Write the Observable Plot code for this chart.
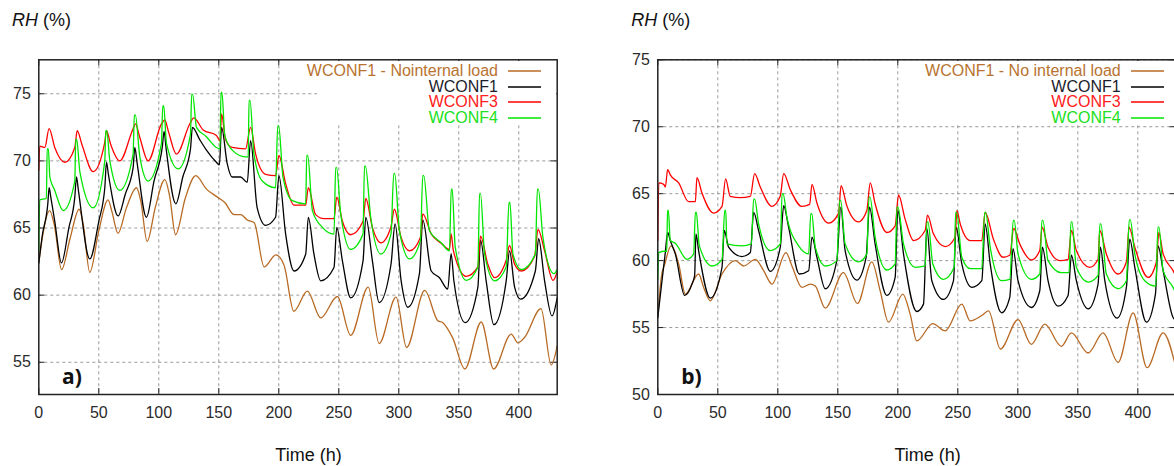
<!DOCTYPE html>
<html><head><meta charset="utf-8">
<script src="https://cdn.jsdelivr.net/npm/d3@7"></script>
<script src="https://cdn.jsdelivr.net/npm/@observablehq/plot@0.6"></script>
<style>
html,body{margin:0;padding:0;background:#fff;width:1174px;height:466px;overflow:hidden;font-family:"Liberation Sans",Arial,sans-serif;}
.panel{position:absolute;top:0;width:600px;height:466px;}
.panel svg{position:absolute;left:0;top:0;}
.ylab{position:absolute;left:12px;top:10px;font-size:18px;line-height:20px;color:#111;white-space:nowrap;}
.xlab{position:absolute;left:0;width:617px;text-align:center;top:445px;font-size:18px;line-height:20px;color:#111;}
.tag{position:absolute;left:62px;top:364px;font-weight:bold;font-size:21px;line-height:24px;font-family:"Open Sans","Liberation Sans",sans-serif;color:#111;}
.legend{position:absolute;background:#fff;top:61px;height:64px;}
.legend .row{position:absolute;left:0;height:16px;line-height:16px;font-size:16px;white-space:nowrap;}
</style>
</head><body>
<script>
// ---------- shared axis values ----------
const xTicks = [0, 50, 100, 150, 200, 250, 300, 350, 400];
const yTicksA = [55, 60, 65, 70, 75];
const yTicksB = [50, 55, 60, 65, 70, 75];
const seriesColors = ["#b86a24", "#000000", "#ff0000", "#00e600"];
const legendTextColors = ["#b87330", "#1c1c2c", "#ff2020", "#20e020"];
const legendNamesA = ["WCONF1 - Nointernal load", "WCONF1", "WCONF3", "WCONF4"];
const legendNamesB = ["WCONF1 - No internal load", "WCONF1", "WCONF3", "WCONF4"];

// ---------- panel a) data: [hour, RH %] ----------
const a_noLoad = [[0,62.4],[3,64.3],[9,66.3],[13,65.2],[19,61.9],[26,64.2],[33.6,66.4],[37,65.3],[42.5,61.7],[50,64.8],[57.7,67.1],[61,66.2],[66,64.6],[73,66.5],[81.4,68.0],[85,67],[90.3,64.0],[97,66.5],[105,68.6],[109,67.4],[114,64.5],[122,67.2],[130.8,68.9],[139.7,67.9],[148.9,67.3],[155,66.9],[162.8,66.0],[168.4,66.0],[173.7,65.6],[179.5,65.4],[187.8,62.1],[197.6,63.0],[204.5,62.2],[212.5,58.8],[223.8,60.3],[234.9,58.3],[248.8,59.9],[259.9,57.0],[274.5,60.6],[283.6,56.4],[297.7,59.85],[306.5,56.1],[321.6,60.35],[332.5,58.1],[336.7,57.95],[345,56.8],[355,54.5],[368.7,58.0],[379,54.5],[393.7,57.1],[399.3,56.45],[404.8,56.85],[418.5,59.0],[427,54.8],[432,56.2]];
const a_wconf1 = [[0,62.4],[3,64.5],[7.5,66.8],[8.6,68.0],[10,67.3],[13.3,65.5],[18.9,62.4],[25,65],[30,67.3],[31.4,68.8],[33,67.8],[42.5,62.7],[50,65.5],[55,68.0],[56.4,69.9],[58,69.0],[66.1,65.9],[72,67.5],[78.6,69.5],[80,71.0],[82,69.8],[89.7,65.8],[96,68.5],[103,71.1],[104.4,72.2],[106,71],[114.2,66.8],[120,68.8],[126.4,70.9],[128,72.5],[134,71.6],[139.7,70.8],[148,69.9],[150.5,69.7],[152.3,72.5],[157,69.8],[161.2,68.8],[168.1,68.8],[173.7,68.4],[176.5,71.5],[182,66.5],[189,65.2],[197.3,65.8],[200.1,68.9],[205.7,64.55],[212.7,61.8],[222.4,63.05],[224.6,65.8],[229.3,63.05],[234.9,61.07],[246,62.06],[248.3,65.05],[253,62.56],[259.9,59.8],[270.2,62.56],[272.5,65.8],[278,62.56],[283.6,59.45],[293.5,62.3],[296.9,65.3],[301.9,61.1],[307.5,59.1],[317.2,61.6],[320,65.6],[327,61.8],[333.9,61.3],[340.8,60.45],[343.6,63.1],[345.9,61.07],[355.3,57.95],[365.9,60.6],[368.1,64.1],[372.8,61.07],[379.2,57.8],[389.5,61.07],[392.3,63.3],[396.5,60.6],[401.5,59.7],[413.8,61.8],[416.5,64.2],[421.5,61.07],[427.7,58.45],[432,59.8]];
const a_wconf3 = [[0,69.3],[0.8,71.1],[5,71.0],[8.6,72.4],[13.3,71.0],[21.7,69.9],[30,71.0],[32,72.25],[36,71.2],[45.3,69.2],[55,71.4],[56.4,72.25],[60,71.2],[67.5,70.0],[78.6,72.4],[80.6,72.75],[84,71.8],[91.1,70.0],[102.2,72.75],[105,73.05],[108,72.2],[114.7,70.5],[125.8,72.75],[129.2,73.2],[137,72.3],[148,71.9],[151,71.5],[152.3,73.5],[155.6,71.6],[161.2,71.0],[172.3,70.9],[176.5,72.5],[180.7,70.5],[189,69.0],[197.3,68.9],[200.1,70.4],[205.7,68.3],[212.7,66.7],[222.4,66.7],[224.6,68.0],[230.7,66.0],[237.7,65.7],[246,65.7],[248.3,67.3],[253,65.5],[259.9,64.5],[270.2,65.5],[272.5,67.2],[278,65.05],[285,63.9],[293.5,65.1],[296.3,66.4],[301.9,64.3],[308.9,63.3],[318,64.3],[320,66.06],[327,64.56],[335.3,63.87],[342.2,63.4],[343.6,64.56],[345.5,63.3],[356.2,61.4],[365.9,62.1],[368.1,64.4],[374.2,62.3],[379.8,61.3],[389.5,62.6],[392.3,63.7],[396.5,62.3],[402.1,61.8],[413.2,62.9],[416,64.9],[421.5,63.3],[428.5,61.1],[432,61.7]];
const a_wconf4 = [[0,63.3],[0.8,67.1],[6.3,67.2],[7,70.9],[8,70.9],[9.2,68.8],[13.3,67.8],[20.3,66.3],[30,68.5],[30.8,71.6],[31.6,71.6],[34.2,69.2],[45.3,66.5],[55,70.0],[55.8,72.25],[56.6,72.25],[59.2,70.0],[67.5,67.8],[78.6,70.5],[79.6,73.4],[80.5,73.4],[84.2,70.3],[91.1,68.5],[102.2,71.3],[103.3,74.1],[104.1,74.1],[106.4,71.3],[116.1,69.4],[126.4,72.0],[127.4,74.95],[128.2,74.95],[131.4,72.5],[139.7,71.8],[148,71.0],[151,70.9],[151.8,75.1],[152.6,75.1],[155,71.9],[161.2,70.8],[172.3,70.3],[174.5,70.3],[175.2,74.5],[176,74.5],[179.3,70.5],[186.2,68.5],[197.3,68.0],[199.1,72.6],[199.9,72.6],[203.5,68.8],[211.3,67.04],[222.4,66.8],[223.3,70.4],[224.1,70.4],[228,66.3],[236.3,65.05],[246,64.55],[247.4,69.5],[248.2,69.5],[251.6,66.05],[259.9,63.4],[270.2,64.55],[271.4,69.6],[272.2,69.6],[276.6,65.8],[285,63.06],[293.5,64.56],[295.8,69.05],[296.6,69.05],[300.5,64.8],[308.9,62.7],[318,64.06],[320,68.9],[320.8,68.9],[325.5,64.8],[335.3,63.9],[342.2,63.3],[343.7,67.9],[344.5,67.9],[347,63.6],[356.2,61.1],[365.9,62.1],[367.3,67.56],[368.1,67.56],[371.5,63.07],[379.8,61.07],[389.5,62.1],[391.8,66.9],[392.6,66.9],[395.1,63.07],[402.1,61.9],[413.8,63.07],[415.5,67.9],[416.3,67.9],[420.1,64.3],[429.3,61.6],[432,61.9]];

// ---------- panel b) data: [hour, RH %] ----------
const b_noLoad = [[0,55.8],[3,58.8],[6,59.8],[11,61.1],[17.4,59.75],[22.9,57.5],[34,59.0],[38.2,58.0],[43.75,57.0],[53.5,59.0],[64.6,60.0],[71.5,59.6],[81.25,60.1],[88.2,59.25],[95.1,58.25],[106.8,60.6],[111.8,59.6],[120.1,58.0],[127.1,58.25],[131.25,58.1],[139.6,56.45],[154.7,59.1],[166.4,56.8],[178.35,59.9],[185.3,57.75],[192.25,55.4],[204.2,57.5],[210.3,56.0],[215.85,54.0],[229.2,55.3],[239.5,54.75],[253.35,56.75],[260.3,55.5],[270,55.9],[275.6,56.25],[285.5,53.4],[300.2,55.6],[311.3,53.75],[322.5,55.25],[336.3,53.6],[344.7,54.6],[358.6,53.1],[371.1,54.6],[383.6,52.4],[396.1,56.1],[407.7,52.0],[421.1,54.6],[432,51.9]];
const b_wconf1 = [[0,55.75],[3.5,58.5],[6.25,60.6],[8.2,62.1],[10.4,61.5],[14.6,60.5],[22.4,57.4],[28.5,58.25],[30.7,58.9],[31.8,62.0],[34,60.75],[43.75,57.2],[53.5,59.5],[55.4,62.25],[59,61.0],[70.1,60.3],[77.1,60.6],[79.9,63.6],[84,62.25],[93.75,59.2],[102.1,61.0],[104.9,64.1],[109,62.5],[117.9,59.0],[125.7,59.25],[128.5,61.75],[132.6,60.25],[139.6,57.9],[149.2,60.0],[152.5,64.0],[156.1,60.75],[165.85,58.55],[173.6,60.25],[176.4,64.0],[181.1,61.25],[190.85,57.4],[197.8,58.75],[200,63.75],[204.75,60.5],[215.85,56.2],[221.4,56.75],[224.2,62.4],[228.35,58.5],[238.1,57.1],[246.4,58.5],[248.6,62.5],[253.35,59.75],[261.7,58.0],[270,58.5],[272.8,62.75],[277,59.75],[286.5,56.1],[293.3,57.25],[296,60.9],[300.2,58.5],[311.3,56.5],[318.3,57.75],[320.5,61.0],[325.2,58.5],[333.6,56.6],[341.9,57.4],[344.7,60.4],[348.8,58.5],[358.6,56.4],[366.9,58.25],[368.8,61.0],[372.5,58.5],[382.7,55.7],[390.5,58.0],[393.3,61.6],[397.5,59.5],[407.2,55.4],[414.7,57.5],[416.9,61.1],[421.1,59.25],[429.4,55.75],[432,55.5]];
const b_wconf3 = [[0,61.5],[0.8,65.8],[4.9,65.7],[6.3,65.5],[8.2,66.8],[10.4,66.4],[17.4,65.8],[25.7,64.4],[31.3,64.4],[32.6,66.2],[36.8,65.05],[46.5,63.55],[53.5,64.05],[56.5,66.1],[60.4,64.8],[68.75,64.7],[77.1,64.8],[80.7,66.5],[85.4,65.5],[95.1,64.05],[102,64.8],[104.9,66.5],[110.4,65.3],[120,64.05],[126.5,64.2],[128.5,65.7],[132.6,64.3],[142.4,62.8],[150.7,63.55],[152.7,65.6],[157.5,64.1],[167.2,62.9],[174.2,63.75],[177,65.8],[181.1,64.25],[190.9,62.1],[197.8,62.6],[200.6,64.9],[206.1,63.1],[213.1,61.5],[222.8,62.25],[224.75,63.4],[229.7,62.0],[239.5,61.05],[247.8,61.75],[249.2,63.75],[252,62.75],[260.3,61.5],[270,61.5],[272.8,63.6],[279.7,61.6],[287.7,60.25],[293.3,60.4],[296.6,62.4],[301.6,61.25],[311.3,60.05],[318.3,60.75],[320.2,62.5],[325.2,61.0],[335,60.0],[341.9,60.1],[344.7,62.25],[348.8,60.75],[360,59.5],[366.9,60.1],[368.3,62.25],[373.8,60.5],[383.6,59.0],[390.5,59.9],[392.7,62.5],[397.5,61.0],[408.6,58.75],[415.5,59.9],[417.5,62.1],[421.1,60.5],[429.4,59.25],[432,58.8]];
const b_wconf4 = [[0,58.6],[0.8,60.6],[5.7,60.7],[7.5,60.7],[8.1,63.75],[8.8,63.75],[10.4,61.5],[14.6,61.3],[24.3,60.1],[29.9,60.5],[31.3,63.6],[32.1,63.6],[34.6,61.1],[45.1,59.6],[53.5,60.1],[55.8,63.75],[56.6,63.75],[57.6,61.25],[70.1,61.1],[77.9,61.25],[79.9,64.6],[80.7,64.6],[84,62.75],[93.75,60.75],[102.1,61.25],[103.6,65.0],[104.4,65.0],[107.6,63.25],[117.4,61.1],[125.7,60.5],[127.5,63.5],[128.3,63.5],[131.25,61.0],[139.6,59.6],[149.2,60.0],[151.6,64.5],[152.4,64.5],[156.1,61.25],[167.2,59.9],[174.2,60.5],[176,64.75],[176.8,64.75],[181.1,61.75],[190.85,59.3],[197.8,59.75],[199.3,64.0],[200.1,64.0],[204.75,61.25],[214.45,59.5],[222.8,59.6],[224.3,62.9],[225.1,62.9],[229.2,59.75],[238.1,58.6],[246.95,59.5],[248.2,63.6],[249,63.6],[253.35,60.25],[260.3,59.4],[270,59.4],[272.4,63.6],[273.2,63.6],[277,61.0],[286.5,58.5],[293.3,58.6],[296.2,63.0],[297,63.0],[300.2,60.5],[311.3,58.6],[318.3,59.0],[320.1,63.0],[320.9,63.0],[325.2,60.0],[336.3,59.1],[342.7,59.1],[344.3,62.9],[345.1,62.9],[348.8,59.5],[358.6,58.4],[366.9,58.9],[368.4,62.75],[369.2,62.75],[373.8,59.0],[383.6,57.9],[390.5,58.5],[392.9,63.05],[393.7,63.05],[397.5,60.5],[405.8,58.5],[415,58.1],[416.8,62.5],[417.6,62.5],[421.1,59.25],[429.4,58.0],[432,57.5]];

// ---------- drawing ----------
const W = 600, H = 466, ML = 38.3, MR = 600 - 556.7, MT = 59.3, MB = 466 - 394;
const PW = W - ML - MR, PH = H - MT - MB;

function makePanel(left, series, yDomain, yTicks, tag, names, legendLeft, legendTextRight) {
  const div = document.createElement("div");
  div.className = "panel";
  div.style.left = left + "px";
  document.body.appendChild(div);

  const dash = {stroke: "#9a9a9a", strokeOpacity: 1, strokeDasharray: "3,3", strokeWidth: 1};
  const tickStyle = {stroke: "#222", strokeWidth: 1};
  const marks = [
    Plot.gridX(xTicks.filter(d => d > 0), dash),
    Plot.gridY(yTicks, dash),
    Plot.tickX(xTicks, {x: d => d, insetTop: PH - 6, ...tickStyle}),
    Plot.tickX(xTicks, {x: d => d, insetBottom: PH - 6, ...tickStyle}),
    Plot.tickY(yTicks, {y: d => d, insetRight: PW - 6, ...tickStyle}),
    Plot.tickY(yTicks, {y: d => d, insetLeft: PW - 6, ...tickStyle})
  ];
  series.forEach((s, i) => {
    marks.push(Plot.line(s, {x: d => d[0], y: d => d[1], stroke: seriesColors[i], strokeWidth: 1.3, curve: "monotone-x"}));
  });
  marks.push(Plot.frame({stroke: "#222", strokeWidth: 1.5}));
  marks.push(Plot.axisX({ticks: xTicks, tickSize: 0, tickPadding: 12, label: null, tickFormat: d => String(d)}));
  marks.push(Plot.axisY({ticks: yTicks, tickSize: 0, tickPadding: 8, label: null, tickFormat: d => String(d)}));

  const svg = Plot.plot({
    width: W, height: H,
    marginLeft: ML, marginRight: MR, marginTop: MT, marginBottom: MB,
    x: {domain: [0, 432]},
    y: {domain: yDomain},
    style: {fontSize: "16px", fontFamily: "'Liberation Sans', Arial, sans-serif", color: "#2b2b2b", background: "transparent", overflow: "visible"},
    marks
  });
  div.appendChild(svg);

  const yl = document.createElement("div");
  yl.className = "ylab";
  yl.innerHTML = "<i>RH</i> (%)";
  div.appendChild(yl);

  const xl = document.createElement("div");
  xl.className = "xlab";
  xl.textContent = "Time (h)";
  div.appendChild(xl);

  const tg = document.createElement("div");
  tg.className = "tag";
  tg.textContent = tag;
  div.appendChild(tg);

  const lg = document.createElement("div");
  lg.className = "legend";
  lg.style.left = legendLeft + "px";
  lg.style.width = (556 - legendLeft) + "px";
  div.appendChild(lg);
  names.forEach((name, i) => {
    const row = document.createElement("div");
    row.className = "row";
    row.style.top = (1.7 + i * 15.8) + "px";
    row.style.width = (556 - legendLeft) + "px";
    const tw = legendTextRight - legendLeft;
    row.innerHTML = `<span style="position:absolute;right:${(556 - legendLeft) - tw}px;color:${legendTextColors[i]}">${name}</span>` +
      `<svg style="position:absolute;left:${tw + 10}px;top:0" width="34" height="16"><line x1="0" x2="33" y1="8" y2="8" stroke="${seriesColors[i]}" stroke-width="1.4"/></svg>`;
    lg.appendChild(row);
  });
}

makePanel(0, [a_noLoad, a_wconf1, a_wconf3, a_wconf4], [52.6, 77.53], yTicksA, "a)", legendNamesA, 317, 498);
makePanel(619.2, [b_noLoad, b_wconf1, b_wconf3, b_wconf4], [50, 75], yTicksB, "b)", legendNamesB, 300, 501.5);
</script>
</body></html>
